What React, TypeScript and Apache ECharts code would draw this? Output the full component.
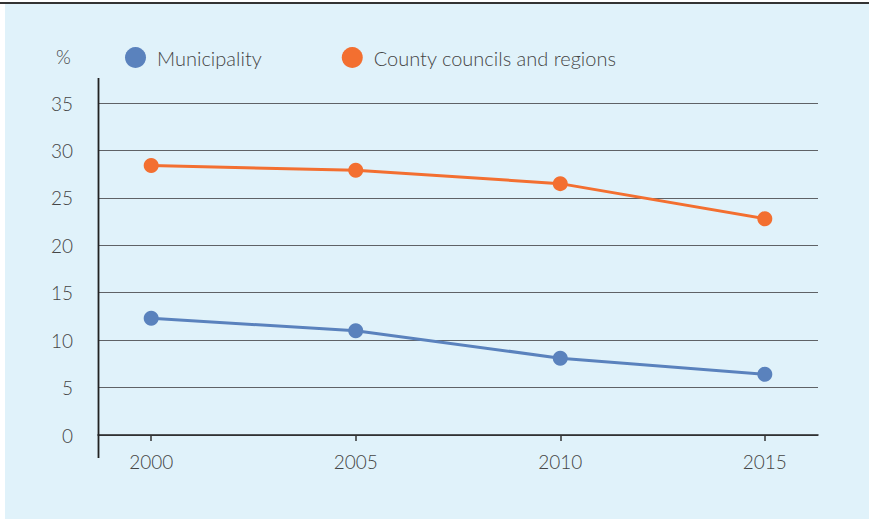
import React, { useEffect, useRef } from "react";
import * as echarts from "echarts";

// Share of total (%) by year
const years = [2000, 2005, 2010, 2015];
const municipality = [12.3, 11.0, 8.1, 6.4];
const countyCouncils = [28.4, 27.9, 26.5, 22.8];
const yTicks = [0, 5, 10, 15, 20, 25, 30, 35];

const seriesNames = ["Municipality", "County councils and regions"];
const BLUE = "#5a82bd";
const ORANGE = "#f36f30";
const FONT = "Lato, 'Open Sans', sans-serif";
const TEXT = "#454545";

export default function App() {
  const ref = useRef<HTMLDivElement>(null);

  useEffect(() => {
    document.body.style.margin = "0";
    if (!ref.current) return;
    const chart = echarts.init(ref.current, null, { renderer: "svg" });

    const mkSeries = (name: string, values: number[], color: string) => ({
      name,
      type: "line",
      data: years.map((y, i) => [y, values[i]]),
      symbol: "circle",
      symbolSize: 15,
      lineStyle: { color, width: 3 },
      itemStyle: { color },
      z: 5,
    });

    chart.setOption({
      animation: false,
      backgroundColor: "transparent",
      textStyle: { fontFamily: FONT },
      grid: { left: 98, right: 51, top: 103, bottom: 84, containLabel: false },
      legend: {
        left: 120,
        top: 42,
        icon: "circle",
        itemWidth: 21,
        itemHeight: 21,
        itemGap: 80,
        textStyle: {
          fontSize: 20,
          color: TEXT,
          fontFamily: FONT,
          fontWeight: 300,
          padding: [0, 0, 0, 6],
        },
        data: seriesNames,
      },
      xAxis: {
        type: "value",
        min: 1998.7,
        max: 2016.3,
        splitLine: { show: false },
        axisLine: { show: true, onZero: false, lineStyle: { color: "#222", width: 1.5 } },
        axisTick: {
          show: true,
          length: 6,
          customValues: years,
          lineStyle: { color: "#333", width: 1.5 },
        },
        axisLabel: {
          customValues: years,
          margin: 17,
          fontSize: 19,
          color: TEXT,
          fontFamily: FONT,
          fontWeight: 300,
          formatter: (v: number) => String(Math.round(v)),
        },
      },
      yAxis: {
        type: "value",
        min: 0,
        max: 35,
        interval: 5,
        axisLine: { show: false },
        axisTick: { show: false },
        splitLine: { show: true, lineStyle: { color: "#5f6266", width: 1.2 } },
        axisLabel: {
          margin: 25,
          fontSize: 19,
          color: TEXT,
          fontFamily: FONT,
          fontWeight: 300,
          customValues: yTicks,
        },
      },
      graphic: [
        {
          type: "text",
          left: 56,
          top: 47,
          style: { text: "%", fontSize: 19, fill: TEXT, fontFamily: FONT, fontWeight: 300 },
        },
        {
          type: "line",
          shape: { x1: 98.5, y1: 78, x2: 98.5, y2: 458 },
          style: { stroke: "#222", lineWidth: 1.8 },
          z: 10,
        },
      ],
      series: [
        mkSeries(seriesNames[0], municipality, BLUE),
        mkSeries(seriesNames[1], countyCouncils, ORANGE),
      ],
    });

    return () => chart.dispose();
  }, []);

  return (
    <div style={{ position: "relative", width: 869, height: 519, background: "#fff" }}>
      <div
        style={{
          position: "absolute",
          left: 0,
          top: 2,
          width: 869,
          height: 2,
          background: "#333",
        }}
      />
      <div
        style={{
          position: "absolute",
          left: 5,
          top: 4,
          width: 864,
          height: 515,
          background: "#e0f2fa",
        }}
      />
      <div ref={ref} style={{ position: "absolute", left: 0, top: 0, width: 869, height: 519 }} />
    </div>
  );
}
